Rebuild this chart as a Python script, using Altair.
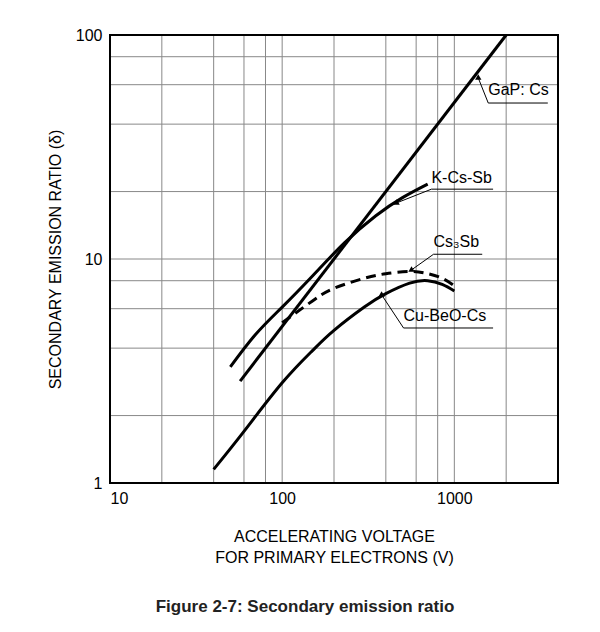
import altair as alt
import pandas as pd

# curves (voltage V, ratio delta)
gap_v = [57, 2000]
gap_d = [2.85, 100]
kcssb_v = [50, 70, 100, 150, 230, 350, 500, 700]
kcssb_d = [3.3, 4.6, 6.1, 8.4, 11.8, 15.6, 18.8, 21.6]
cs3sb_v = [100, 150, 200, 300, 400, 550, 700, 850, 1000]
cs3sb_d = [5.2, 6.5, 7.4, 8.2, 8.6, 8.8, 8.6, 8.2, 7.6]
cubeo_v = [40, 60, 100, 150, 200, 300, 400, 550, 700, 850, 1000]
cubeo_d = [1.15, 1.7, 2.8, 3.9, 4.8, 6.1, 7.0, 7.8, 8.0, 7.7, 7.2]

x_grid = [20, 40, 60, 80, 100, 200, 400, 600, 800, 1000, 2000]
y_grid = [2, 4, 6, 8, 10, 20, 40, 60, 80]

# labels: text position, leader tip, leader knee, underline end
labels = ["GaP: Cs", "K-Cs-Sb", "Cs₃Sb", "Cu-BeO-Cs"]
label_x = [1574, 736, 757, 507]
label_y = [57, 23, 11.9, 5.56]
tip_x = [1377, 462, 564, 378]
tip_y = [64.3, 17.8, 8.94, 6.92]
knee_x = [1574, 736, 757, 507]
knee_y = [49.7, 20.5, 10.5, 4.92]
end_x = [3490, 1679, 1452, 1679]

xs = alt.Scale(type="log", domain=[10, 4000], nice=False)
ys = alt.Scale(type="log", domain=[1, 100], nice=False)

curves = pd.concat([
    pd.DataFrame({"v": gap_v, "d": gap_d, "s": "GaP"}),
    pd.DataFrame({"v": kcssb_v, "d": kcssb_d, "s": "KCsSb"}),
    pd.DataFrame({"v": cubeo_v, "d": cubeo_d, "s": "CuBeO"}),
])
dashed = pd.DataFrame({"v": cs3sb_v, "d": cs3sb_d})

font = "Liberation Sans"

base_x = alt.X("v:Q", scale=xs,
               axis=alt.Axis(values=[10, 100, 1000], format="d", grid=False,
                             ticks=False, labelFontSize=16, labelPadding=7,
                             labelFont=font, labelColor="#000",
                             title=["ACCELERATING VOLTAGE", "FOR PRIMARY ELECTRONS (V)"],
                             titleFontSize=16, titleFontWeight="normal",
                             titleFont=font, titlePadding=22, titleLineHeight=21,
                             titleColor="#000", domain=False))
base_y = alt.Y("d:Q", scale=ys,
               axis=alt.Axis(values=[1, 10, 100], format="d", grid=False,
                             ticks=False, labelFontSize=16, labelPadding=8,
                             labelFont=font, labelColor="#000",
                             title="SECONDARY EMISSION RATIO (δ)",
                             titleFontSize=16, titleFontWeight="normal",
                             titleFont=font, titlePadding=12, titleColor="#000",
                             domain=False))

vgrid = alt.Chart(pd.DataFrame({"v": x_grid})).mark_rule(
    color="#888", strokeWidth=1).encode(x=alt.X("v:Q", scale=xs))
hgrid = alt.Chart(pd.DataFrame({"d": y_grid})).mark_rule(
    color="#888", strokeWidth=1).encode(y=alt.Y("d:Q", scale=ys))

lines = alt.Chart(curves).mark_line(
    color="black", strokeWidth=3, interpolate="natural").encode(
    x=base_x, y=base_y, detail="s:N")
dash = alt.Chart(dashed).mark_line(
    color="black", strokeWidth=3, strokeDash=[10, 6], interpolate="natural").encode(
    x=alt.X("v:Q", scale=xs), y=alt.Y("d:Q", scale=ys))

ann = pd.DataFrame({"label": labels, "lx": label_x, "ly": label_y,
                    "tx": tip_x, "ty": tip_y, "kx": knee_x, "ky": knee_y,
                    "ex": end_x})
leader = alt.Chart(ann).mark_rule(color="black", strokeWidth=1).encode(
    x=alt.X("tx:Q", scale=xs), y=alt.Y("ty:Q", scale=ys),
    x2="kx:Q", y2="ky:Q")
underline = alt.Chart(ann).mark_rule(color="black", strokeWidth=1).encode(
    x=alt.X("kx:Q", scale=xs), y=alt.Y("ky:Q", scale=ys), x2="ex:Q")
arrow = alt.Chart(ann).mark_point(shape="triangle", filled=True, size=40,
                                  color="black", opacity=1).encode(
    x=alt.X("tx:Q", scale=xs), y=alt.Y("ty:Q", scale=ys))
text = alt.Chart(ann).mark_text(align="left", baseline="middle", fontSize=16,
                                font=font, color="black").encode(
    x=alt.X("lx:Q", scale=xs), y=alt.Y("ly:Q", scale=ys), text="label:N")

frame = alt.Chart(pd.DataFrame({"a": [0]})).mark_rect(
    fill=None, stroke="black", strokeWidth=2).encode(
    x=alt.value(0), x2=alt.value(448), y=alt.value(0), y2=alt.value(448))

caption = alt.Chart(pd.DataFrame({"t": ["Figure 2-7: Secondary emission ratio"]})).mark_text(
    fontSize=17, fontWeight="bold", font=font, color="#222").encode(
    x=alt.value(195), y=alt.value(572), text="t:N")

chart = alt.layer(vgrid, hgrid, lines, dash, leader, underline, arrow, text,
                  frame, caption).properties(
    width=448, height=448,
    autosize=alt.AutoSizeParams(type="none"),
    padding={"left": 102, "top": 27, "right": 34, "bottom": 149},
).configure_view(stroke=None)

chart.save("out.html", embed_options={"renderer": "svg", "actions": False})
